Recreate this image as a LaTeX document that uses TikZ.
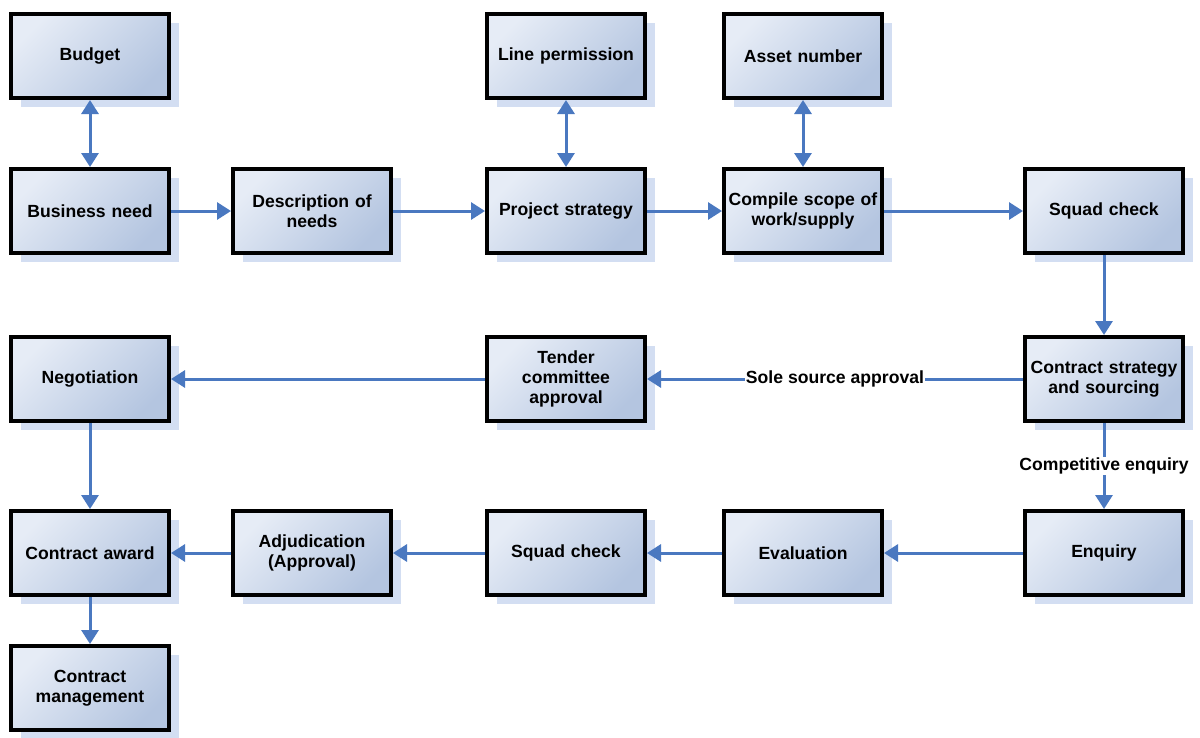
\documentclass[tikz,border=0pt]{standalone}
\usepackage{fontspec}
\setmainfont{Liberation Sans}
\usetikzlibrary{arrows.meta,shadows,patterns}
\definecolor{boxlight}{HTML}{E6ECF6}
\definecolor{boxdark}{HTML}{B4C5E0}
\definecolor{arrowblue}{HTML}{4A78C0}
\definecolor{shadowblue}{HTML}{D3DEF2}
\tikzset{
  box/.style={draw=black, line width=4pt, minimum width=156pt, minimum height=84pt,
    inner sep=0pt, text width=158pt, align=center,
    font=\fontsize{17.6}{20}\selectfont\bfseries,
    top color=boxlight, bottom color=boxdark, shading angle=45,
    drop shadow={shadow xshift=10pt, shadow yshift=-9pt, fill=shadowblue, opacity=1, draw=none}},
  arr/.style={draw=arrowblue, line width=3pt, -{Triangle[length=14pt,width=17pt]}},
  darr/.style={draw=arrowblue, line width=3pt, {Triangle[length=14pt,width=17pt]}-{Triangle[length=14pt,width=17pt]}},
  lbl/.style={fill=white, inner sep=1pt, font=\fontsize{17.6}{20}\selectfont\bfseries}
}
\begin{document}
\begin{tikzpicture}[x=1pt,y=-1pt]
\useasboundingbox (0,0) rectangle (1200,737);
\node[box] (budget) at (90,56) {Budget};
\node[box] (line) at (566,56) {Line permission};
\node[box] (asset) at (803,56) {Asset number};
\node[box] (business) at (90,211) {Business need};
\node[box] (desc) at (312,211) {Description of\\needs};
\node[box] (project) at (566,211) {Project strategy};
\node[box] (compile) at (803,211) {Compile scope of\\work/supply};
\node[box] (squad1) at (1104,211) {Squad check};
\node[box] (negot) at (90,379) {Negotiation};
\node[box] (tender) at (566,379) {Tender\\committee\\approval};
\node[box] (contract) at (1104,379) {Contract strategy\\and sourcing};
\node[box] (award) at (90,553) {Contract award};
\node[box] (adjud) at (312,553) {Adjudication\\(Approval)};
\node[box] (squad2) at (566,553) {Squad check};
\node[box] (eval) at (803,553) {Evaluation};
\node[box] (enquiry) at (1104,553) {Enquiry};
\node[box] (mgmt) at (90,688) {Contract\\management};

\draw[darr] (budget) -- (business);
\draw[darr] (line) -- (project);
\draw[darr] (asset) -- (compile);
\draw[arr] (business) -- (desc);
\draw[arr] (desc) -- (project);
\draw[arr] (project) -- (compile);
\draw[arr] (compile) -- (squad1);
\draw[arr] (squad1) -- (contract);
\draw[arr] (contract) -- node[lbl, pos=0.5] (sole) {Sole source approval} (tender);
\draw[arr] (tender) -- (negot);
\draw[arr] (negot) -- (award);
\draw[arr] (contract) -- node[lbl, pos=0.5] (comp) {Competitive enquiry} (enquiry);
\draw[arr] (enquiry) -- (eval);
\draw[arr] (eval) -- (squad2);
\draw[arr] (squad2) -- (adjud);
\draw[arr] (adjud) -- (award);
\draw[arr] (award) -- (mgmt);
\end{tikzpicture}
\end{document}
